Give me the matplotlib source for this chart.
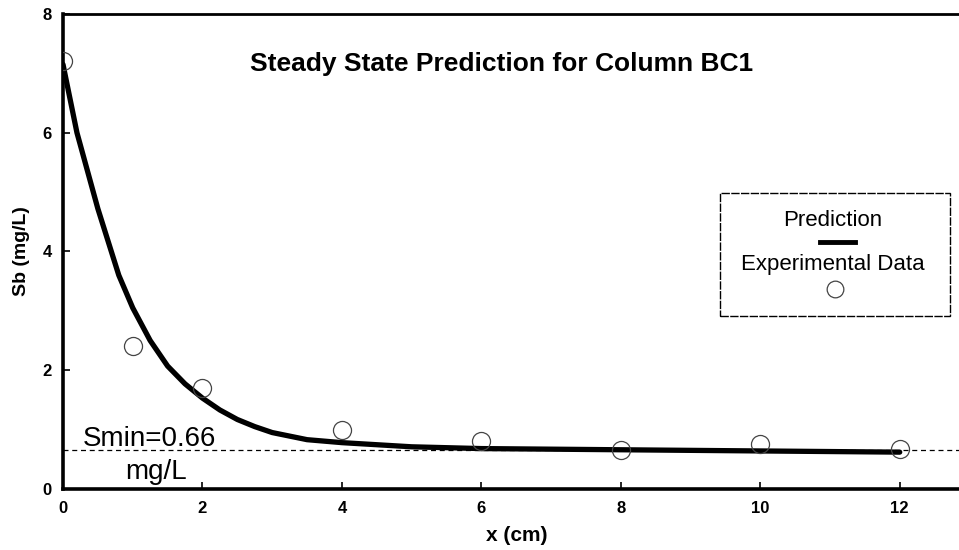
import matplotlib.pyplot as plt
from matplotlib.patches import Rectangle
from matplotlib.lines import Line2D

plt.rcParams['font.family'] = ['Liberation Sans', 'DejaVu Sans']

# experimental data
x_exp = [0, 1, 2, 4, 6, 8, 10, 12]
sb_exp = [7.2, 2.41, 1.7, 1.0, 0.8, 0.66, 0.75, 0.68]

# model prediction
x_pred = [0, 0.2, 0.5, 0.8, 1.0, 1.25, 1.5, 1.75, 2.0, 2.25, 2.5, 2.75, 3.0, 3.5,
          4.0, 5.0, 6.0, 8.0, 10.0, 12.0]
sb_pred = [7.15, 6.0, 4.72, 3.6, 3.05, 2.5, 2.07, 1.77, 1.53, 1.33, 1.17, 1.05, 0.95, 0.83,
           0.78, 0.71, 0.68, 0.66, 0.64, 0.62]

smin = 0.66
xticks = [0, 2, 4, 6, 8, 10, 12]
yticks = [0, 2, 4, 6, 8]

fig = plt.figure(figsize=(9.59, 5.5), dpi=100)
ax = fig.add_axes([0.0657, 0.111, 0.9343, 0.8636])

ax.axhline(smin, color='black', lw=0.9, ls=(0, (4, 3)), zorder=1)
ax.plot(x_pred, sb_pred, color='black', lw=3.8, solid_capstyle='round',
        solid_joinstyle='round', zorder=3)
ax.plot(x_exp, sb_exp, ls='none', marker='o', ms=13, mfc='none',
        mec='#444444', mew=0.9, zorder=4)

ax.set_xlim(0, 12.85)
ax.set_ylim(0, 8)
ax.set_xticks(xticks)
ax.set_yticks(yticks)
ax.tick_params(direction='in', length=5, width=1.2, labelsize=12)
for lab in ax.get_xticklabels() + ax.get_yticklabels():
    lab.set_fontweight('bold')
ax.tick_params(axis='x', pad=9)
ax.tick_params(axis='y', pad=8)

ax.spines['left'].set_linewidth(2.6)
ax.spines['bottom'].set_linewidth(2.6)
ax.spines['top'].set_linewidth(2.0)
ax.spines['right'].set_visible(False)

ax.set_xlabel('x (cm)', fontsize=15, fontweight='bold', va='center')
ax.xaxis.set_label_coords(0.506, -0.097)
ax.set_ylabel('Sb (mg/L)', fontsize=14, fontweight='bold')
ax.yaxis.set_label_coords(-0.037, 0.5)

ax.text(0.489, 0.895, 'Steady State Prediction for Column BC1', transform=ax.transAxes,
        ha='center', va='center', fontsize=19, fontweight='bold')

ax.text(0.022, 0.106, 'Smin=0.66', transform=ax.transAxes, fontsize=20, va='center')
ax.text(0.069, 0.036, 'mg/L', transform=ax.transAxes, fontsize=20, va='center')

# legend box
ax.add_patch(Rectangle((0.733, 0.364), 0.257, 0.259, transform=ax.transAxes,
                       fill=False, lw=1.0, ec='black', ls=(0, (6, 1)), zorder=5))
ax.text(0.859, 0.566, 'Prediction', transform=ax.transAxes, ha='center', va='center',
        fontsize=16, zorder=6)
ax.add_line(Line2D([0.845, 0.884], [0.519, 0.519], transform=ax.transAxes,
                   color='black', lw=3.5, zorder=6))
ax.text(0.859, 0.472, 'Experimental Data', transform=ax.transAxes, ha='center', va='center',
        fontsize=16, zorder=6)
ax.add_line(Line2D([0.862], [0.422], transform=ax.transAxes, marker='o', ms=12,
                   mfc='none', mec='#444444', mew=0.9, ls='none', zorder=6))

fig.savefig('out.png', dpi=100)
